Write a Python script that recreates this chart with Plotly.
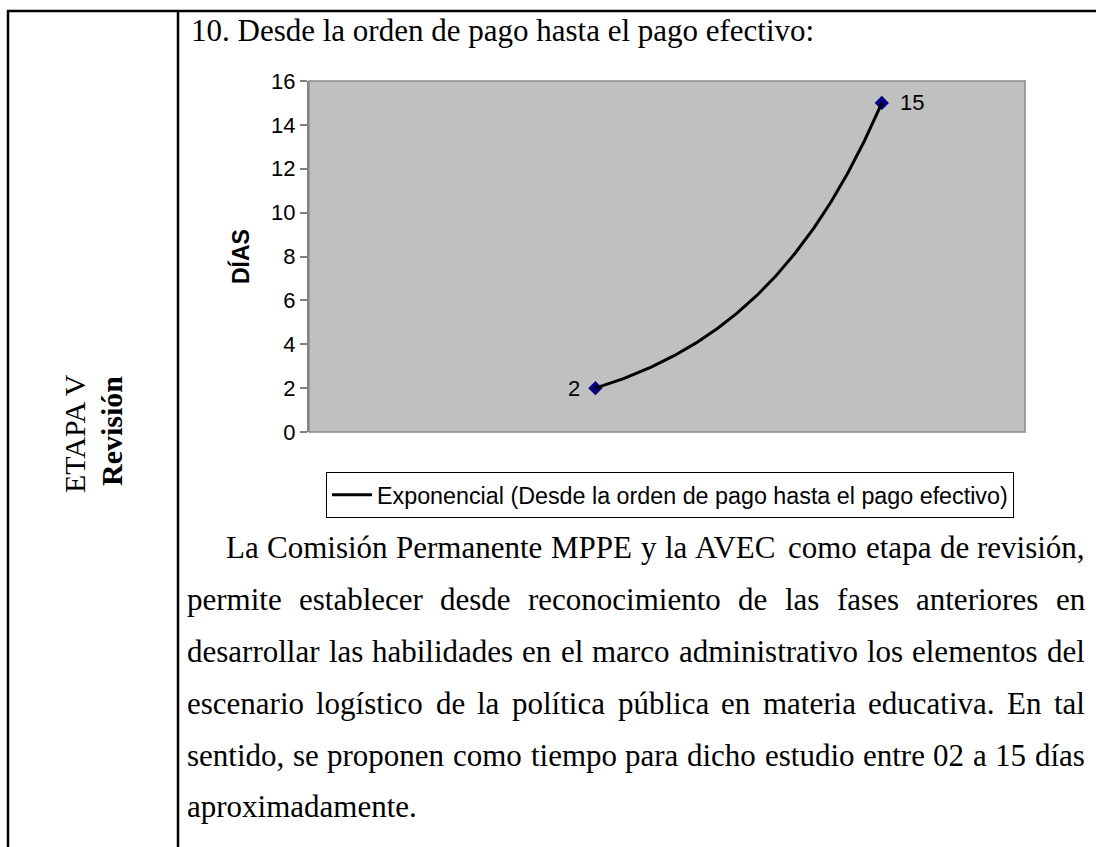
import numpy as np
import plotly.graph_objects as go

# ---- data ----
x_points = [2, 4]
dias = [2, 15]
point_labels = ["2", "15"]
series_name = "Exponencial (Desde la orden de pago hasta el pago efectivo)"
y_ticks = [0, 2, 4, 6, 8, 10, 12, 14, 16]

heading = "10. Desde la orden de pago hasta el pago efectivo:"
stage = "ETAPA V"
stage_name = "Revisión"
paragraph_lines = [
    "La Comisión Permanente MPPE y la AVEC como etapa de revisión,",
    "permite establecer desde reconocimiento de las fases anteriores en",
    "desarrollar las habilidades en el marco administrativo los elementos del",
    "escenario logístico de la política pública en materia educativa. En tal",
    "sentido, se proponen como tiempo para dicho estudio entre 02 a 15 días",
    "aproximadamente.",
]

# ---- page geometry (pixels) ----
W, H = 1096, 847
PL, PR, PT, PB = 309, 1025, 81, 432


def px(x):
    return (x - PL) / (PR - PL)


def py(y):
    return (PB - y) / (PB - PT)


SERIF = "Liberation Serif, Times New Roman, serif"
SANS = "Liberation Sans, Arial, sans-serif"

# exponential trendline fitted in log space (least squares)
b, ln_a = np.polyfit(np.array(x_points, float), np.log(np.array(dias, float)), 1)
x_fit = np.linspace(min(x_points), max(x_points), 200)
y_fit = np.exp(ln_a) * np.exp(b * x_fit)

fig = go.Figure()
fig.add_trace(go.Scatter(
    x=x_points, y=dias, mode="markers",
    marker=dict(symbol="diamond", size=11, color="#000080"),
    showlegend=False, hoverinfo="skip",
))
fig.add_trace(go.Scatter(
    x=x_fit, y=y_fit, mode="lines",
    line=dict(color="black", width=3),
    name=series_name, showlegend=True,
))

fig.update_layout(
    width=W, height=H, autosize=False,
    margin=dict(l=PL, r=W - PR, t=PT, b=H - PB, pad=0),
    paper_bgcolor="white", plot_bgcolor="#C0C0C0",
    xaxis=dict(range=[0, 5], visible=False),
    yaxis=dict(
        range=[0, 16], tickvals=y_ticks, ticks="outside", ticklen=7,
        tickcolor="#808080", tickwidth=1.5,
        showline=True, linecolor="#808080", linewidth=2, showgrid=False,
        zeroline=False,
        tickfont=dict(family=SANS, size=22, color="black"),
        title=dict(text="<b>DÍAS</b>", font=dict(family=SANS, size=23, color="black"), standoff=15),
    ),
    legend=dict(
        x=px(326), y=py(472), xanchor="left", yanchor="top",
        bordercolor="black", borderwidth=1, bgcolor="white", itemwidth=40,
        font=dict(family=SANS, size=23.3, color="black"),
    ),
)

shapes = [
    # plot-area frame
    dict(type="rect", xref="paper", yref="paper", x0=0, x1=1, y0=0, y1=1,
         line=dict(color="#8a8a8a", width=1.5)),
    # table rules
    dict(type="line", xref="paper", yref="paper", x0=px(7), x1=px(W), y0=py(11), y1=py(11),
         line=dict(color="black", width=2.5)),
    dict(type="line", xref="paper", yref="paper", x0=px(8), x1=px(8), y0=py(10), y1=py(H + 5),
         line=dict(color="black", width=2.5)),
    dict(type="line", xref="paper", yref="paper", x0=px(178), x1=px(178), y0=py(10), y1=py(H + 5),
         line=dict(color="black", width=2.5)),
]

annotations = [
    dict(text=heading, x=px(189), y=py(31), xref="paper", yref="paper",
         xanchor="left", yanchor="middle", showarrow=False,
         font=dict(family=SERIF, size=31, color="black")),
    dict(text=stage, x=px(75), y=py(434), xref="paper", yref="paper",
         xanchor="center", yanchor="middle", showarrow=False, textangle=-90,
         font=dict(family=SERIF, size=30, color="black")),
    dict(text="<b>" + stage_name + "</b>", x=px(111), y=py(431), xref="paper", yref="paper",
         xanchor="center", yanchor="middle", showarrow=False, textangle=-90,
         font=dict(family=SERIF, size=30, color="black")),
]

# data labels beside each point
for xv, yv, lab, side in zip(x_points, dias, point_labels, ["left", "right"]):
    annotations.append(dict(
        text=lab, x=xv, y=yv, xref="x", yref="y", showarrow=False,
        xanchor="right" if side == "left" else "left", yanchor="middle",
        xshift=-13 if side == "left" else 16,
        font=dict(family=SANS, size=22, color="black"),
    ))

# Times-compatible advance widths (1/1000 em) for justified text layout
TW = dict(zip("abcdefghijklmnopqrstuvwxyz",
              [444, 500, 444, 500, 444, 333, 500, 500, 278, 278, 500, 278, 778,
               500, 500, 500, 500, 333, 389, 278, 500, 500, 722, 500, 500, 444]))
TW.update({"A": 722, "C": 667, "E": 611, "L": 611, "M": 889, "P": 556, "V": 722,
           "T": 611, ",": 250, ".": 250, ":": 278, " ": 250,
           "á": 444, "é": 444, "í": 278, "ó": 500, "ú": 500})
for d in "0123456789":
    TW[d] = 500


def word_width(w, size):
    return sum(TW.get(c, 500) for c in w) * size / 1000.0


PSIZE = 31
LEFT, RIGHT = 185, 1083
INDENT = 224
line_y = [547, 599, 651, 703, 755, 807]

for i, line in enumerate(paragraph_lines):
    words = line.split(" ")
    x0 = INDENT if i == 0 else LEFT
    yy = py(line_y[i])
    last = i == len(paragraph_lines) - 1
    if last:
        annotations.append(dict(text=line, x=px(x0), y=yy, xref="paper", yref="paper",
                                xanchor="left", yanchor="middle", showarrow=False,
                                font=dict(family=SERIF, size=PSIZE, color="black")))
        continue
    widths = [word_width(w, PSIZE) for w in words]
    gap = (RIGHT - x0 - sum(widths)) / (len(words) - 1)
    xc = x0
    for w, ww in zip(words, widths):
        annotations.append(dict(text=w, x=px(xc), y=yy, xref="paper", yref="paper",
                                xanchor="left", yanchor="middle", showarrow=False,
                                font=dict(family=SERIF, size=PSIZE, color="black")))
        xc += ww + gap

fig.update_layout(shapes=shapes, annotations=annotations)
fig.write_html("out.html")
